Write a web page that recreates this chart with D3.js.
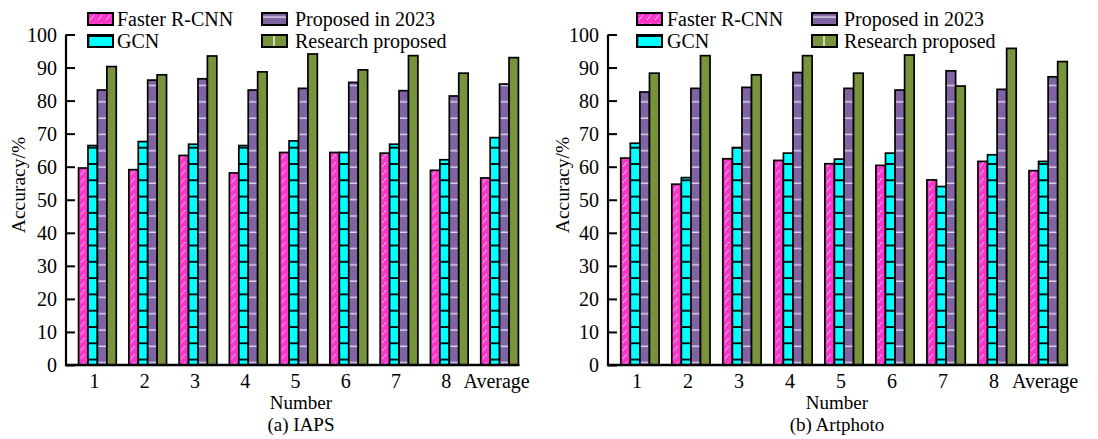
<!DOCTYPE html>
<html>
<head>
<meta charset="utf-8">
<script src="https://cdnjs.cloudflare.com/ajax/libs/d3/7.8.5/d3.min.js"></script>
<style>
  body { margin: 0; background: #fff; }
</style>
</head>
<body>
<script>
var categories = ["1", "2", "3", "4", "5", "6", "7", "8", "Average"];
var seriesNames = ["Faster R-CNN", "GCN", "Proposed in 2023", "Research proposed"];
var yTicks = [0, 10, 20, 30, 40, 50, 60, 70, 80, 90, 100];

// (a) IAPS
var iapsFaster   = [59.6, 59.1, 63.4, 58.1, 64.3, 64.3, 64.1, 58.9, 56.6];
var iapsGCN      = [66.4, 67.6, 66.8, 66.4, 67.8, 64.3, 66.8, 62.1, 68.8];
var iapsProposed = [83.2, 86.2, 86.6, 83.2, 83.7, 85.5, 83.0, 81.4, 85.0];
var iapsResearch = [90.3, 87.8, 93.5, 88.7, 94.1, 89.3, 93.6, 88.3, 93.0];

// (b) Artphoto
var artFaster   = [62.6, 54.7, 62.4, 61.9, 60.9, 60.4, 56.0, 61.6, 58.8];
var artGCN      = [67.1, 56.7, 65.8, 64.1, 62.3, 64.1, 54.0, 63.6, 61.6];
var artProposed = [82.6, 83.7, 84.0, 88.5, 83.7, 83.2, 89.0, 83.4, 87.2];
var artResearch = [88.3, 93.6, 87.8, 93.6, 88.3, 93.8, 84.4, 95.8, 91.8];

var svg = d3.select("body").append("svg")
    .attr("width", 1098)
    .attr("height", 439)
    .attr("font-family", "'Liberation Serif', 'Times New Roman', Times, serif");

// fill patterns
var defs = svg.append("defs");

var p1 = defs.append("pattern").attr("id", "pat0")
    .attr("patternUnits", "userSpaceOnUse").attr("width", 8).attr("height", 8);
p1.append("rect").attr("width", 8).attr("height", 8).attr("fill", "#fb37cb");
p1.append("line").attr("x1", 2).attr("y1", 7).attr("x2", 6).attr("y2", 2)
    .attr("stroke", "#fbc6ee").attr("stroke-width", 1);

var p2 = defs.append("pattern").attr("id", "pat1")
    .attr("patternUnits", "userSpaceOnUse").attr("width", 27).attr("height", 16.3);
p2.append("rect").attr("width", 27).attr("height", 16.3).attr("fill", "#00ffff");
p2.append("line").attr("x1", 0).attr("y1", 1).attr("x2", 27).attr("y2", 1)
    .attr("stroke", "#000").attr("stroke-width", 1.8);
p2.append("line").attr("x1", 0.6).attr("y1", 0).attr("x2", 0.6).attr("y2", 16.3)
    .attr("stroke", "#000").attr("stroke-width", 1.4);

var p3 = defs.append("pattern").attr("id", "pat2")
    .attr("patternUnits", "userSpaceOnUse").attr("width", 40).attr("height", 16.3);
p3.append("rect").attr("width", 40).attr("height", 16.3).attr("fill", "#7f63a2");
p3.append("line").attr("x1", 0).attr("y1", 4).attr("x2", 40).attr("y2", 4)
    .attr("stroke", "#ddd5ec").attr("stroke-width", 1.5);

var p4 = defs.append("pattern").attr("id", "pat3")
    .attr("patternUnits", "userSpaceOnUse").attr("width", 34).attr("height", 10);
p4.append("rect").attr("width", 34).attr("height", 10).attr("fill", "#77933c");
p4.append("line").attr("x1", 12).attr("y1", 0).attr("x2", 12).attr("y2", 10)
    .attr("stroke", "#eef2e0").attr("stroke-width", 1.5);

var fills = ["url(#pat0)", "url(#pat1)", "url(#pat2)", "url(#pat3)"];

function drawChart(opt, series) {
    var y = d3.scaleLinear().domain([0, 100]).range([365, 34.5]);

    var x0 = d3.scaleBand()
        .domain(categories)
        .range([opt.left, opt.right])
        .paddingInner(0.25)
        .paddingOuter(0.25);

    var x1 = d3.scaleBand()
        .domain(d3.range(seriesNames.length))
        .range([0, x0.bandwidth()]);

    var g = svg.append("g");

    // bars
    var groups = g.selectAll(".grp")
        .data(categories)
        .enter().append("g")
        .attr("transform", function (d) { return "translate(" + x0(d) + ",0)"; });

    groups.selectAll("rect")
        .data(function (d, i) { return series.map(function (s, k) { return {k: k, v: s[i]}; }); })
        .enter().append("rect")
        .attr("x", function (d) { return x1(d.k); })
        .attr("y", function (d) { return y(d.v); })
        .attr("width", x1.bandwidth())
        .attr("height", function (d) { return y(0) - y(d.v); })
        .attr("fill", function (d) { return fills[d.k]; })
        .attr("stroke", "#000")
        .attr("stroke-width", 1.7);

    // y axis
    var yAxis = d3.axisRight(y).tickValues(yTicks).tickSize(9).tickFormat("");
    var ya = g.append("g")
        .attr("transform", "translate(" + opt.left + ",0)")
        .call(yAxis);
    ya.select(".domain").remove();
    ya.selectAll("line").attr("stroke", "#000").attr("stroke-width", 2);

    g.selectAll(".ylab")
        .data(yTicks)
        .enter().append("text")
        .attr("x", opt.left - 9)
        .attr("y", function (d) { return y(d); })
        .attr("dy", "0.35em")
        .style("text-anchor", "end")
        .style("font-size", "20px")
        .text(function (d) { return d; });

    g.append("line")
        .attr("x1", opt.left).attr("x2", opt.left)
        .attr("y1", y(0) + 1).attr("y2", y(100))
        .attr("stroke", "#000").attr("stroke-width", 2.2);

    var lastEnd = x0(categories[categories.length - 1]) + x0.bandwidth();
    g.append("line")
        .attr("x1", opt.left - 1).attr("x2", lastEnd + 1)
        .attr("y1", y(0)).attr("y2", y(0))
        .attr("stroke", "#000").attr("stroke-width", 2.6);

    // x tick labels
    g.selectAll(".xlab")
        .data(categories)
        .enter().append("text")
        .attr("x", function (d) { return x0(d) + x0.bandwidth() / 2 - 3; })
        .attr("y", 388)
        .style("text-anchor", "middle")
        .style("font-size", "20px")
        .text(function (d) { return d; });

    g.append("text")
        .attr("x", opt.titleX).attr("y", 409)
        .style("text-anchor", "middle")
        .style("font-size", "19px")
        .text("Number");

    g.append("text")
        .attr("x", opt.titleX).attr("y", 431)
        .style("text-anchor", "middle")
        .style("font-size", "19px")
        .text(opt.caption);

    g.append("text")
        .attr("transform", "rotate(-90)")
        .attr("x", -185)
        .attr("y", opt.ylabX)
        .attr("dy", "0.35em")
        .style("text-anchor", "middle")
        .style("font-size", "19.5px")
        .text("Accuracy/%");

    // legend
    var lg = g.selectAll(".leg")
        .data(seriesNames)
        .enter().append("g")
        .attr("transform", function (d, i) {
            return "translate(" + opt.legX[Math.floor(i / 2)] + "," + (i % 2 === 0 ? 13 : 35) + ")";
        });
    lg.append("rect")
        .attr("width", 25).attr("height", 12)
        .attr("fill", function (d, i) { return fills[i]; })
        .attr("stroke", "#000").attr("stroke-width", 2);
    lg.append("text")
        .attr("x", function (d, i) { return opt.legText[Math.floor(i / 2)]; })
        .attr("y", 12.5)
        .style("font-size", "20px")
        .text(function (d) { return d; });
}

drawChart({
    left: 66, right: 531, titleX: 301, caption: "(a) IAPS", ylabX: 18,
    legX: [88, 262], legText: [29, 33]
}, [iapsFaster, iapsGCN, iapsProposed, iapsResearch]);

drawChart({
    left: 608, right: 1080, titleX: 837, caption: "(b) Artphoto", ylabX: 562,
    legX: [637, 812], legText: [30, 32]
}, [artFaster, artGCN, artProposed, artResearch]);
</script>
</body>
</html>
